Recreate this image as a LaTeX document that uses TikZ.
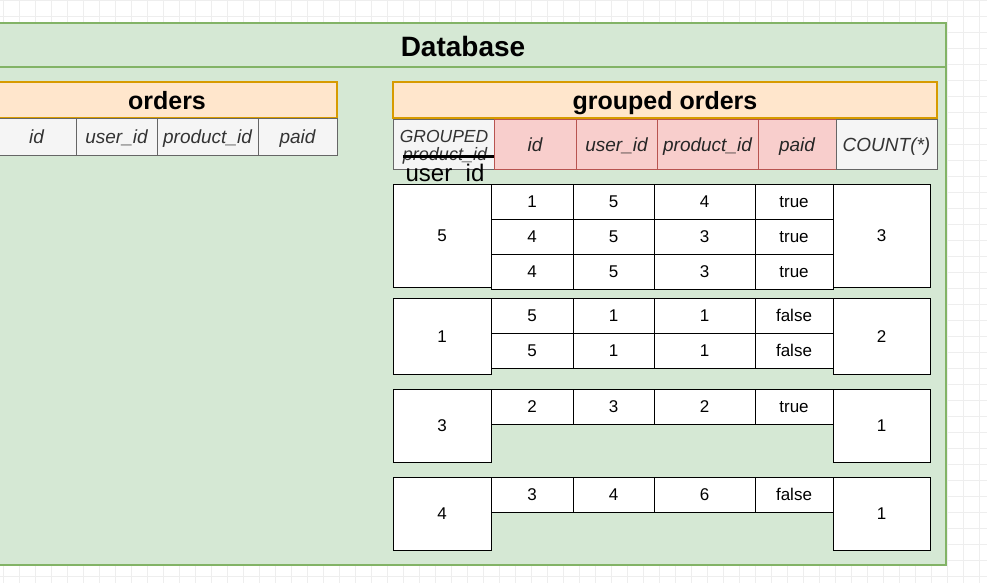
\documentclass[tikz,border=0pt]{standalone}
\usepackage{fontspec}
\setmainfont{Liberation Sans}
\usetikzlibrary{positioning}

\definecolor{dbfill}{HTML}{D5E8D4}
\definecolor{dbline}{HTML}{82B366}
\definecolor{headfill}{HTML}{FFE6CC}
\definecolor{headline}{HTML}{D79B00}
\definecolor{greyfill}{HTML}{F5F5F5}
\definecolor{greyline}{HTML}{666666}
\definecolor{keyfill}{HTML}{F8CECC}
\definecolor{keyline}{HTML}{B85450}
\definecolor{textgrey}{HTML}{333333}
\definecolor{gridgrey}{HTML}{EEEEEE}

% one table cell: name, style, left, top, width, height, text
\newcommand{\tabcell}[7]{\node[#2, anchor=north west, inner sep=0pt, outer sep=0pt, minimum width=#5pt, minimum height=#6pt] (#1) at (#3,#4) {#7};}

\begin{document}
\begin{tikzpicture}[x=1pt, y=-1pt,
        gridline/.style={draw=gridgrey, line width=0.6pt},
        dbbox/.style={fill=dbfill, draw=dbline, line width=1.3pt},
        dbtitle/.style={font=\fontsize{28}{32}\selectfont\bfseries},
        tabhead/.style={rectangle, draw=headline, fill=headfill, line width=1.2pt, text height=19pt, text depth=0.5pt, font=\fontsize{25}{30}\selectfont\bfseries},
        colname/.style={rectangle, draw=greyline, fill=greyfill, line width=1pt, text height=18pt, text depth=3.8pt, text=textgrey, font=\fontsize{19}{23}\selectfont\itshape},
        keyname/.style={colname, draw=keyline, fill=keyfill, text=black!85},
        valcell/.style={rectangle, draw=black, fill=white, line width=1pt, text height=16.2pt, text depth=3.4pt, font=\fontsize{17}{20}\selectfont},
    ]
\useasboundingbox (0,0) rectangle (987,582);
\begin{scope}[xshift=3pt]
\draw[gridline, step=16pt] (-16,598) grid (1000,0);
\end{scope}

\path[dbbox] (-5,23) rectangle (946,565);
\coordinate (dbsplitL) at (-5,67);
\coordinate (dbsplitR) at (946,67);
\draw[dbline, line width=1.3pt] (dbsplitL) -- (dbsplitR);
\node[dbtitle] (database) at (463,46) {Database};

% orders
\tabcell{orders}{tabhead}{-3}{82}{340}{36}{orders}
\tabcell{oid}{colname}{-3}{118}{79}{37}{id}
\tabcell{ouser}{colname}{76}{118}{81}{37}{user\_id}
\tabcell{oproduct}{colname}{157}{118}{101}{37}{product\_id}
\tabcell{opaid}{colname}{258}{118}{79}{37}{paid}

% grouped orders
\tabcell{grouped}{tabhead}{393}{82}{544}{36}{grouped orders}
\tabcell{gcol}{colname}{393}{119}{101}{50}{}
\tabcell{gid}{keyname}{494}{119}{82}{50}{id}
\tabcell{guser}{keyname}{576}{119}{81}{50}{user\_id}
\tabcell{gproduct}{keyname}{657}{119}{101}{50}{product\_id}
\tabcell{gpaid}{keyname}{758}{119}{78}{50}{paid}
\tabcell{gcount}{colname}{836}{119}{101}{50}{COUNT(*)}

\node[text=textgrey, font=\fontsize{17.5}{20}\selectfont\itshape] (grouptag) at (444,136) {GROUPED};
\node[text=textgrey, font=\fontsize{18}{20}\selectfont\itshape, inner sep=0pt] (struck) at (445,156) {product\_id};
\draw[line width=3pt] (struck.west) -- (struck.west -| gcol.east);
\node[font=\fontsize{24}{26}\selectfont, below=-4pt of struck] (newkey) {user\_id};

% grouped rows
\foreach \y/\a/\b/\c/\d [count=\i] in {184/1/5/4/true, 219/4/5/3/true, 254/4/5/3/true,
        298/5/1/1/false, 333/5/1/1/false, 389/2/3/2/true, 477/3/4/6/false} {
    \tabcell{row\i id}{valcell}{491}{\y}{82}{35}{\a}
    \tabcell{row\i user}{valcell}{573}{\y}{81}{35}{\b}
    \tabcell{row\i product}{valcell}{654}{\y}{101}{35}{\c}
    \tabcell{row\i paid}{valcell}{755}{\y}{78}{35}{\d}
}

% group keys and counts
\foreach \y/\h/\k/\n [count=\i] in {184/103/5/3, 298/76/1/2, 389/73/3/1, 477/73/4/1} {
    \tabcell{key\i}{valcell}{393}{\y}{98}{\h}{\k}
    \tabcell{count\i}{valcell}{833}{\y}{97}{\h}{\n}
}
\end{tikzpicture}
\end{document}
